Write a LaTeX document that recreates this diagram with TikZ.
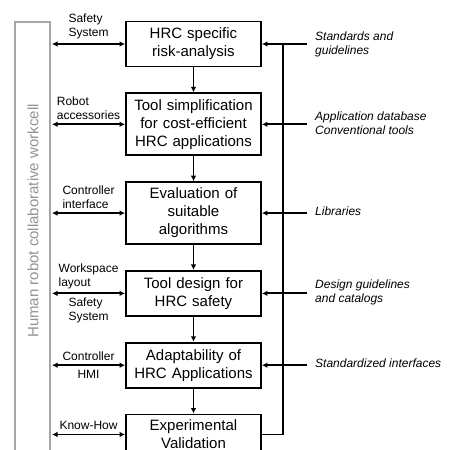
\documentclass[tikz,border=0pt]{standalone}
\usepackage{fontspec}
\setmainfont{Liberation Sans}
\usetikzlibrary{arrows.meta, positioning}

\begin{document}
\begin{tikzpicture}[
    x=1pt, y=1pt,
    node distance=25pt,
    stage/.style={rectangle, draw=black, line width=1.8pt, text width=127pt, align=center, inner sep=4pt, minimum height=45pt, font=\fontsize{15}{18}\selectfont},
    lbl/.style={align=left, inner sep=4pt, font=\fontsize{12}{14}\selectfont},
    note/.style={anchor=west, align=left, inner xsep=8pt, font=\fontsize{12}{14}\selectfont\itshape},
    arrow/.style={line width=1.8pt, -{Latex[length=5.5pt,width=5.5pt]}},
    dbl/.style={line width=1.8pt, {Latex[length=5.5pt,width=5.5pt]}-{Latex[length=5.5pt,width=5.5pt]}},
    bus/.style={line width=1.8pt},
    cell/.style={draw=gray!70, line width=1.6pt}
]
\useasboundingbox (0,0) rectangle (451,450);
\clip (0,0) rectangle (451,450);

% Workcell
\draw [cell] (15,-20) rectangle (50,428);
\node (celltext) [rotate=90, text=gray!85, font=\fontsize{15}{18}\selectfont] at (33,229) {Human robot collaborative workcell};
\coordinate (wall) at (52,0);

% Stages
\node (risk) [stage] at (193.5,406) {HRC specific\\risk-analysis};
\node (simpl) [stage, minimum height=62pt, below=of risk] {Tool simplification\\for cost-efficient\\HRC applications};
\node (algo) [stage, minimum height=62pt, below=of simpl] {Evaluation of\\suitable\\algorithms};
\node (design) [stage, below=of algo] {Tool design for\\HRC safety};
\node (adapt) [stage, below=of design] {Adaptability of\\HRC Applications};
\node (valid) [stage, minimum height=40pt, below=of adapt] {Experimental\\Validation};

\draw [arrow] (risk) -- (simpl);
\draw [arrow] (simpl) -- (algo);
\draw [arrow] (algo) -- (design);
\draw [arrow] (design) -- (adapt);
\draw [arrow] (adapt) -- (valid);

% Inputs from the workcell
\draw [dbl] (risk.west -| wall) -- node[lbl, above] (lsafe) {Safety\\System} (risk.west);
\draw [dbl] (simpl.west -| wall) -- node[lbl, above] (lacc) {Robot\\accessories} (simpl.west);
\draw [dbl] (algo.west -| wall) -- node[lbl, above] (lctrl) {Controller\\interface} (algo.west);
\draw [dbl] (design.west -| wall) -- node[lbl, above] (lwork) {Workspace\\layout}
    node[lbl, below] (lsafe2) {Safety\\System} (design.west);
\draw [dbl] (adapt.west -| wall) -- node[lbl, above] (lctrl2) {Controller}
    node[lbl, below] (lhmi) {HMI} (adapt.west);
\draw [dbl] (valid.west -| wall) -- node[lbl, above] (lknow) {Know-How} (valid.west);

% Knowledge sources
\node (std) [note] at (307,406) {Standards and\\guidelines};
\node (appdb) [note] at (307,327) {Application database\\Conventional tools};
\node (lib) [note] at (307,239) {Libraries};
\node (dguide) [note] at (307,158) {Design guidelines\\and catalogs};
\node (stdif) [note] at (307,87) {Standardized interfaces};

\draw [arrow] (risk.east -| std.west) -- (risk.east);
\draw [arrow] (simpl.east -| appdb.west) -- (simpl.east);
\draw [arrow] (algo.east -| lib.west) -- (algo.east);
\draw [arrow] (design.east -| dguide.west) -- (design.east);
\draw [arrow] (adapt.east -| stdif.west) -- (adapt.east);

\coordinate (bustop) at (283,0);
\draw [bus] (valid.east) -- (valid.east -| bustop) -- (risk.east -| bustop);

\end{tikzpicture}
\end{document}
